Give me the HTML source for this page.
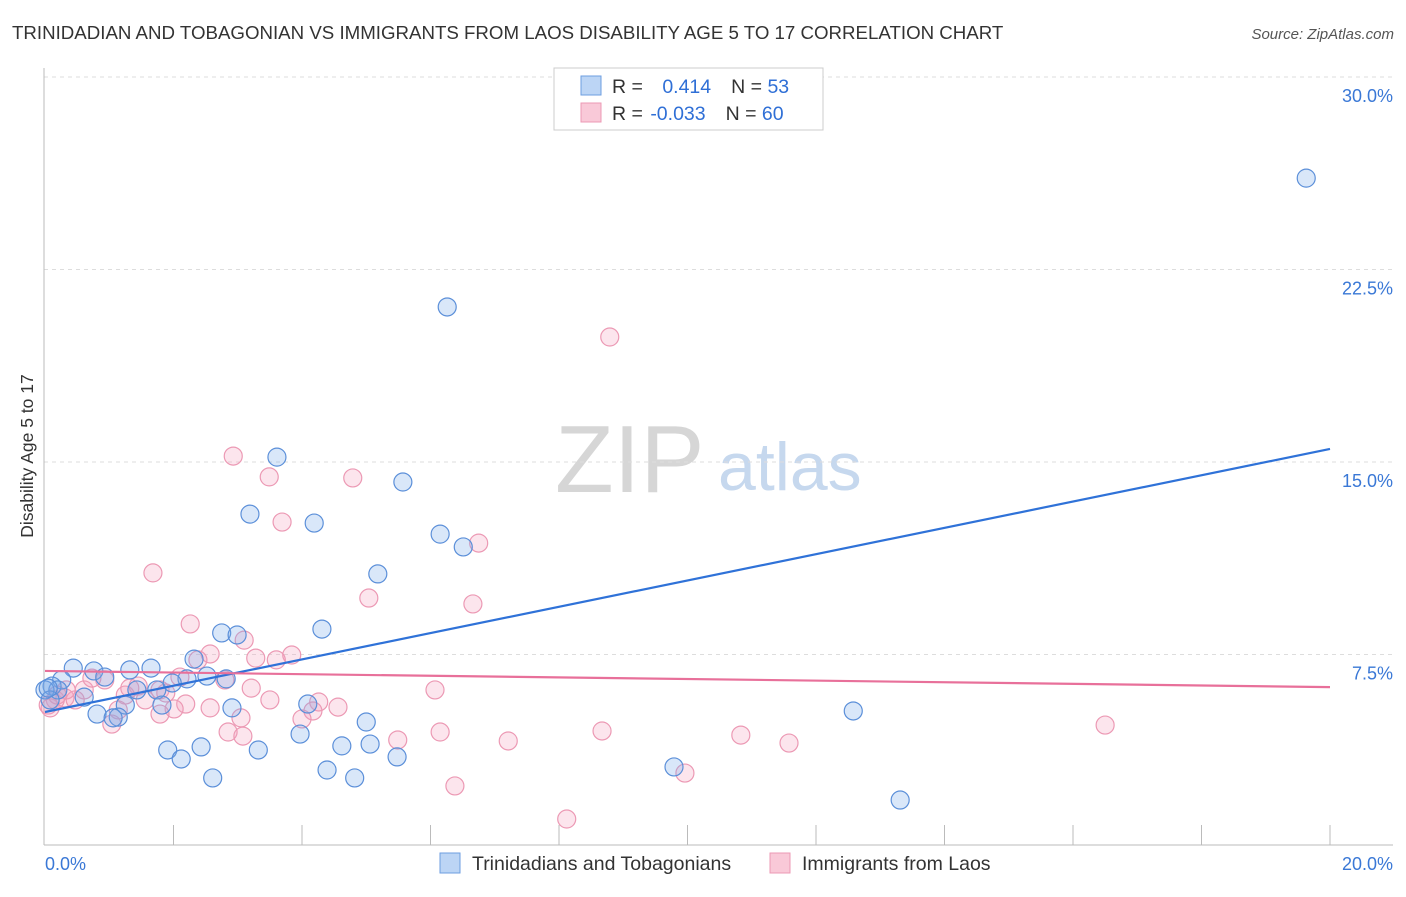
<!DOCTYPE html>
<html><head><meta charset="utf-8"><style>
body{margin:0;background:#fff;font-family:"Liberation Sans",sans-serif}
svg text{font-family:"Liberation Sans",sans-serif}
</style></head><body>
<svg id="c" width="1406" height="892">
<text x="12" y="39" font-size="18.7" fill="#333">TRINIDADIAN AND TOBAGONIAN VS IMMIGRANTS FROM LAOS DISABILITY AGE 5 TO 17 CORRELATION CHART</text>
<text x="1394" y="39" font-size="15" fill="#555" font-style="italic" text-anchor="end">Source: ZipAtlas.com</text>
<text transform="translate(33,456) rotate(-90)" font-size="17.5" fill="#333" text-anchor="middle">Disability Age 5 to 17</text>
<g>
<text x="555" y="492" font-size="96" fill="#d6d6d6" font-family="Liberation Serif,serif">ZIP</text>
<text x="718" y="490" font-size="68" fill="#c6d8ee">atlas</text>
</g>
<g id="grid"></g><g id="axes"></g><g id="pts"></g><g id="trend"></g>
<g>
<rect x="554" y="68" width="269" height="62" fill="#fff" stroke="#ccc"/>
<rect x="581" y="76" width="20" height="19" fill="#bcd5f5" stroke="#6d9ee0"/>
<rect x="581" y="103" width="20" height="19" fill="#f9c9d8" stroke="#ec99b4"/>
<text x="612" y="93" font-size="19.5" fill="#333">R = <tspan fill="#2f6fd6" dx="14">0.414</tspan><tspan dx="20" fill="#333">N = </tspan><tspan fill="#2f6fd6">53</tspan></text>
<text x="612" y="120" font-size="19.5" fill="#333">R = <tspan fill="#2f6fd6" dx="2">-0.033</tspan><tspan dx="20" fill="#333">N = </tspan><tspan fill="#2f6fd6">60</tspan></text>
</g>
<g>
<rect x="440" y="853" width="20" height="20" fill="#bcd5f5" stroke="#6d9ee0"/>
<text x="472" y="870" font-size="19.5" fill="#333">Trinidadians and Tobagonians</text>
<rect x="770" y="853" width="20" height="20" fill="#f9c9d8" stroke="#ec99b4"/>
<text x="802" y="870" font-size="19.5" fill="#333">Immigrants from Laos</text>
</g>
</svg>
<script>
const xTicks=[0,20];
const yTicks=[7.5,15,22.5,30];
const blueX=[19.63,6.26,3.61,5.57,3.19,4.19,6.15,6.51,5.18,4.31,2.75,2.99,2.32,1.65,1.32,0.44,0.76,0.26,0.93,2.21,2.52,2.82,0.11,0.20,1.43,1.74,1.98,0.61,1.25,1.82,4.09,2.91,0.81,1.14,1.06,5.00,3.97,12.58,1.91,2.43,2.12,3.32,4.62,5.06,5.48,4.39,2.61,4.82,9.79,13.31,0,0.08,0.05];
const blueY=[26.06,21.04,15.19,14.22,12.97,12.62,12.19,11.69,10.64,8.49,8.34,8.26,7.32,6.97,6.90,6.97,6.86,6.51,6.62,6.55,6.66,6.55,6.27,6.12,6.12,6.12,6.39,5.84,5.53,5.53,5.57,5.42,5.18,5.06,5.03,4.87,4.40,5.30,3.78,3.90,3.43,3.78,3.94,4.01,3.51,3.00,2.69,2.69,3.12,1.83,6.12,5.73,6.19];
const pinkX=[8.79,2.93,3.49,4.79,3.69,6.75,1.68,5.04,6.66,2.26,3.10,2.57,3.84,3.28,3.60,2.38,2.80,3.21,6.07,2.10,1.45,1.79,0.61,0.93,0.73,1.25,1.56,1.88,0.31,0.47,0.16,0.05,1.14,2.19,2.01,1.79,4.26,4.17,4.56,4.00,3.05,1.04,2.85,3.08,6.15,8.67,5.49,7.21,10.83,11.58,16.50,9.96,6.38,8.12,2.57,0.33,1.32,0.08,0.19,3.50];
const pinkY=[19.87,15.23,14.42,14.38,12.66,11.84,10.68,9.70,9.47,8.69,8.06,7.52,7.48,7.36,7.29,7.29,6.51,6.19,6.12,6.62,6.27,6.12,6.12,6.51,6.58,5.92,5.73,6.00,5.81,5.73,5.73,5.53,5.34,5.57,5.38,5.18,5.65,5.30,5.45,4.99,5.03,4.79,4.48,4.32,4.48,4.52,4.17,4.13,4.36,4.05,4.75,2.88,2.38,1.09,5.42,6.12,6.19,5.42,5.92,5.73];
const blueTrend=[5.26,15.51];
const pinkTrend=[6.86,6.23];
const NS='http://www.w3.org/2000/svg';
const X=v=>45+v/20*1285, Y=v=>847-v/7.5*192.5;
function mk(t,a,p){const e=document.createElementNS(NS,t);for(const k in a)e.setAttribute(k,a[k]);document.getElementById(p).appendChild(e);return e;}
yTicks.forEach(t=>{
 const l=mk('line',{x1:44,x2:1393,y1:Y(t),y2:Y(t),stroke:'#ddd','stroke-dasharray':'4,4'},'grid');
 
 
 const s=mk('text',{x:1393,y:Y(t)+25,'font-size':18,fill:'#3a78d6','text-anchor':'end'},'grid');
 s.textContent=t.toFixed(1)+'%';
 
 
});
mk('line',{x1:44,x2:44,y1:68,y2:845,stroke:'#bbb'},'axes');
mk('line',{x1:44,x2:1393,y1:845,y2:845,stroke:'#bbb'},'axes');
for(let i=1;i<=10;i++){const tx=X(i*2);mk('line',{x1:tx,x2:tx,y1:825,y2:845,stroke:'#bbb'},'axes');}
xTicks.forEach((t,i)=>{
 const s=mk('text',{x:i?1393:45,y:870,'font-size':18,fill:'#3a78d6','text-anchor':i?'end':'start'},'axes');
 s.textContent=t.toFixed(1)+'%';
 
 
});
pinkX.forEach((v,i)=>{
 const c=mk('circle',{cx:X(v),cy:Y(pinkY[i]),r:9,fill:'rgba(244,160,190,0.28)',stroke:'#ec99b4','stroke-width':1.2},'pts');
 
 
});
blueX.forEach((v,i)=>{
 const c=mk('circle',{cx:X(v),cy:Y(blueY[i]),r:9,fill:'rgba(120,170,235,0.28)',stroke:'#5b8fd9','stroke-width':1.2},'pts');
 
 
});
const bt=mk('line',{x1:X(0),x2:X(20),y1:Y(blueTrend[0]),y2:Y(blueTrend[1]),stroke:'#2f72d8','stroke-width':2.2},'trend');


const pt=mk('line',{x1:X(0),x2:X(20),y1:Y(pinkTrend[0]),y2:Y(pinkTrend[1]),stroke:'#e8709a','stroke-width':2.2},'trend');


</script>
</body></html>
